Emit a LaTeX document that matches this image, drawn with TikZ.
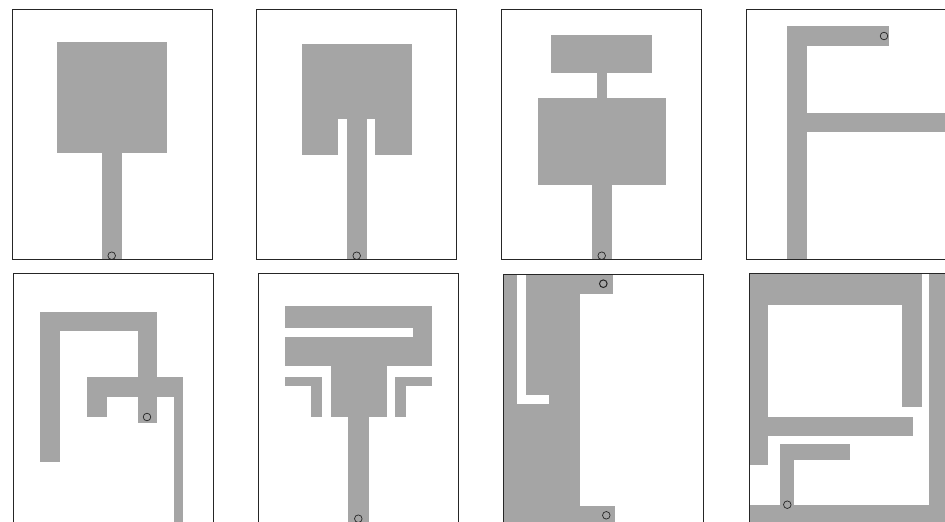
\documentclass[tikz,border=0pt]{standalone}
\begin{document}
\begin{tikzpicture}[x=1pt,y=-1pt,
  metal/.style={fill=metalgray,draw=none},
  gap/.style={fill=white,draw=none},
  frame/.style={draw=black!85,line width=0.8pt},
  port/.style={draw=black!85,line width=0.7pt,fill=none}]
\definecolor{metalgray}{HTML}{A5A5A5}
\useasboundingbox (0,0) rectangle (945,522);
\clip (0,0) rectangle (945,522);
\fill[white] (0,0) rectangle (945,522);
% ---------- panel 1
\fill[metal] (57,41.7) rectangle (166.7,152.7);
\fill[metal] (101.7,152) rectangle (121.7,259.3);
\draw[frame] (12,9) rectangle (212,259.3);
\draw[port] (111.7,255.7) circle (3.8);
% ---------- panel 2
\fill[metal] (302,44) rectangle (411.7,155.3);
\fill[gap] (337.7,119.3) rectangle (375,155.5);
\fill[metal] (346.7,119.3) rectangle (366.7,259.3);
\draw[frame] (256.7,9) rectangle (456.7,259.3);
\draw[port] (356.7,255.7) circle (3.8);
% ---------- panel 3
\fill[metal] (551,35) rectangle (652.3,72.7);
\fill[metal] (596.7,72) rectangle (607.3,98.5);
\fill[metal] (538,98) rectangle (666,184.7);
\fill[metal] (592,184) rectangle (612,259.3);
\draw[frame] (501.7,9) rectangle (701.7,259.3);
\draw[port] (601.7,255.7) circle (3.8);
% ---------- panel 4
\fill[metal] (786.7,26) rectangle (806.7,259.3);
\fill[metal] (786.7,26) rectangle (889.3,46);
\fill[metal] (806,112.7) rectangle (950,131.7);
\draw[frame] (746.7,9) rectangle (960,259.3);
\draw[port] (884,36) circle (3.8);
% ---------- panel 5
\fill[metal] (40.3,312) rectangle (60,462);
\fill[metal] (40.3,312) rectangle (157.3,331.3);
\fill[metal] (137.7,312) rectangle (157.3,423);
\fill[metal] (87.3,377) rectangle (182.7,397);
\fill[metal] (87.3,377) rectangle (107.3,417);
\fill[metal] (173.7,377) rectangle (182.7,530);
\draw[frame] (13.3,273.7) rectangle (213.3,530);
\draw[port] (147,417) circle (3.8);
% ---------- panel 6
\fill[metal] (285,305.7) rectangle (431.7,366);
\fill[gap] (285,328) rectangle (413.3,336.7);
\fill[metal] (331,365.5) rectangle (386.7,417.3);
\fill[metal] (348.3,417) rectangle (368.7,530);
\fill[metal] (285,377) rectangle (322,386.3);
\fill[metal] (310.7,377) rectangle (322,417.3);
\fill[metal] (394.7,377) rectangle (431.7,386.3);
\fill[metal] (394.7,377) rectangle (406.3,417.3);
\draw[frame] (258.3,273.7) rectangle (458.3,530);
\draw[port] (358.3,518.7) circle (3.8);
% ---------- panel 7
\fill[metal] (503.3,274.3) rectangle (580,530);
\fill[metal] (579.5,274.3) rectangle (613.3,293.7);
\fill[metal] (579.5,506.3) rectangle (615,530);
\fill[gap] (517.3,274.3) rectangle (526,403.7);
\fill[gap] (517.3,395.3) rectangle (549,403.7);
\draw[frame] (503.3,274.3) rectangle (703.3,530);
\draw[port,line width=1pt] (603.3,283.7) circle (3.8);
\draw[port] (606.3,515.3) circle (3.8);
% ---------- panel 8
\fill[metal] (749,273.7) rectangle (921.7,305.3);
\fill[metal] (902,273.7) rectangle (921.7,407);
\fill[metal] (749,273.7) rectangle (768.3,465.3);
\fill[metal] (749,417) rectangle (912.7,436);
\fill[metal] (929,273.7) rectangle (950,530);
\fill[metal] (749,504.7) rectangle (950,530);
\fill[metal] (780,443.7) rectangle (794.3,505);
\fill[metal] (780,443.7) rectangle (850,459.7);
\draw[frame] (749,273.7) rectangle (960,530);
\draw[port] (787.3,504.7) circle (3.8);
\end{tikzpicture}
\end{document}
